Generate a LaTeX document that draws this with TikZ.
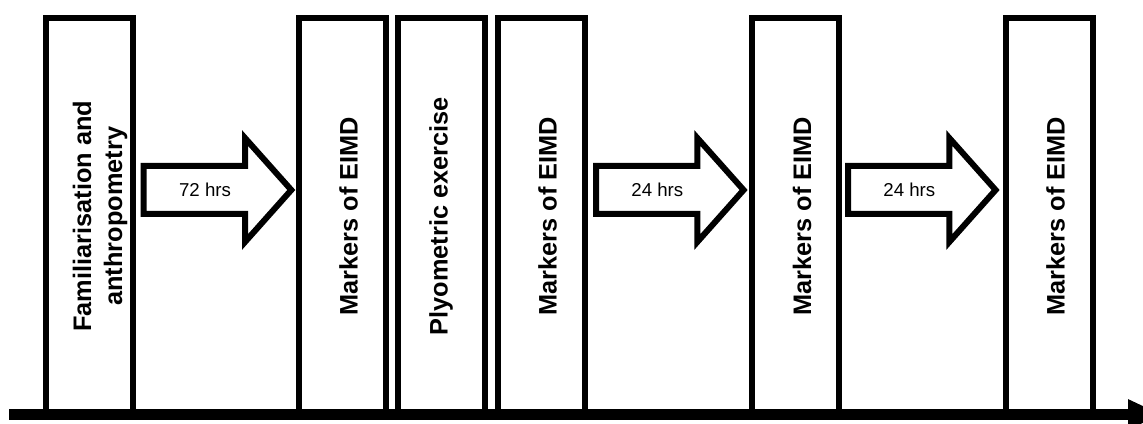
\documentclass[tikz,border=0pt]{standalone}
\usepackage{fontspec}
\setmainfont{Liberation Sans}
\usetikzlibrary{arrows.meta}

\begin{document}
\begin{tikzpicture}[x=0.75pt,y=0.75pt,
	stage/.style={draw,line width=4.5pt,minimum width=65.25pt,minimum height=297.4pt,inner sep=0pt},
	stagetext/.style={rotate=90,font=\bfseries\fontsize{19}{23.25}\selectfont,align=center,inner sep=0pt},
	gap/.style={draw,line width=4.5pt,fill=white,miter limit=10},
	gaptext/.style={font=\fontsize{14}{17}\selectfont,inner sep=0pt}]
	\useasboundingbox (0,0) rectangle (1143,424);

	\node[stage] (b1) at (89,207.75)   {};
	\node[stage] (b2) at (342,207.75)  {};
	\node[stage] (b3) at (441,207.75)  {};
	\node[stage] (b4) at (541,207.75)  {};
	\node[stage] (b5) at (795.5,207.75) {};
	\node[stage] (b6) at (1049,207.75) {};

	\node[stagetext] (s1) at ([xshift=8.25pt]b1.center) {Familiarisation and\\anthropometry};
	\node[stagetext] (s2) at ([xshift=4.9pt]b2.center)  {Markers of EIMD};
	\node[stagetext] (s3) at (b3.center)                {Plyometric exercise};
	\node[stagetext] (s4) at ([xshift=4.9pt]b4.center)  {Markers of EIMD};
	\node[stagetext] (s5) at ([xshift=4.9pt]b5.center)  {Markers of EIMD};
	\node[stagetext] (s6) at ([xshift=4.9pt]b6.center)  {Markers of EIMD};

	\foreach \x/\lbl [count=\i] in {143.7/72 hrs, 596/24 hrs, 848/24 hrs} {
		\coordinate (g\i) at (\x,234);
		\draw[gap] (g\i) ++(0,24) -- ++(101.3,0) -- ++(0,28) -- ++(46.3,-52)
			-- ++(-46.3,-52) -- ++(0,28) -- ++(-101.3,0) -- cycle;
		\node[gaptext] (h\i) at ([xshift=46pt]g\i) {\lbl};
	}

	\coordinate (t0) at (9,9.5);
	\coordinate (t1) at (1162,9.5);
	\draw[line width=8.5pt,-{Triangle[length=25.5pt,width=21pt]}] (t0) -- (t1);
\end{tikzpicture}
\end{document}
